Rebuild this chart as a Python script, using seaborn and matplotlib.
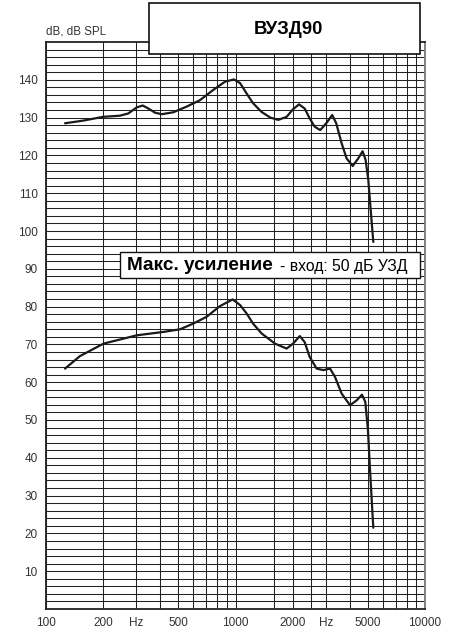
import matplotlib
matplotlib.use('Agg')
import matplotlib.pyplot as plt
from matplotlib.patches import Rectangle
import numpy as np
import pandas as pd
import seaborn as sns

# upper curve: max output (dB SPL)
freq_max = [126, 157, 200, 245, 272, 301, 324, 347, 376, 408, 469, 552, 649, 762, 880,
            981, 1058, 1144, 1238, 1373, 1527, 1682, 1861, 2011, 2163, 2318, 2462, 2617,
            2800, 3013, 3238, 3400, 3631, 3858, 4155, 4442, 4684, 4860, 5021, 5170, 5336]
db_max = [128.5, 129.2, 130.2, 130.5, 131.1, 132.7, 133.2, 132.4, 131.3, 130.9, 131.4,
          132.9, 134.6, 137.3, 139.5, 140.1, 139.1, 136.4, 133.8, 131.5, 130.0, 129.4,
          130.2, 132.2, 133.5, 132.4, 129.8, 127.6, 126.7, 128.5, 130.7, 128.5, 123.2,
          119.2, 117.2, 119.2, 121.1, 118.8, 113.5, 105.5, 97.1]

# lower curve: max gain, input 50 dB SPL
freq_gain = [126, 151, 201, 301, 416, 510, 598, 704, 826, 966, 1058, 1144, 1238, 1373,
             1616, 1861, 2011, 2184, 2318, 2462, 2680, 2909, 3155, 3350, 3631, 4021,
             4358, 4650, 4841, 5000, 5140, 5336]
db_gain = [63.6, 66.9, 70.2, 72.4, 73.3, 74.0, 75.5, 77.3, 80.1, 81.9, 80.4, 78.2, 75.5,
           72.9, 70.2, 68.9, 70.2, 72.2, 70.6, 66.7, 63.6, 63.2, 63.6, 61.4, 57.0, 53.9,
           55.2, 56.7, 54.8, 47.3, 35.8, 21.5]

x_ticks = [100, 200, 300, 500, 1000, 2000, 3000, 5000, 10000]
x_labels = ['100', '200', 'Hz', '500', '1000', '2000', 'Hz', '5000', '10000']
x_grid = [200, 300, 400, 500, 600, 700, 800, 900, 1000, 1600, 2000, 2500, 3000,
          4000, 5000, 6000, 7000, 8000, 9000]
y_ticks = list(range(10, 150, 10))

sns.set_style('white')
plt.rcParams['font.family'] = ['Liberation Sans', 'DejaVu Sans']

W, H = 455, 631
fig = plt.figure(figsize=(W / 100, H / 100), dpi=100)
ax = fig.add_axes([46 / W, 1 - 609 / H, (425 - 46) / W, (609 - 42) / H])

df_max = pd.DataFrame({'f': freq_max, 'db': db_max})
df_gain = pd.DataFrame({'f': freq_gain, 'db': db_gain})
for d in (df_max, df_gain):
    sns.lineplot(data=d, x='f', y='db', ax=ax, color='#1a1a1a', linewidth=1.6,
                 sort=False, estimator=None, zorder=5,
                 solid_joinstyle='round', solid_capstyle='round')

ax.set_xscale('log')
ax.set_xlim(100, 10000)
ax.set_ylim(0, 150)

ax.set_xticks(x_ticks)
ax.set_xticklabels(x_labels)
ax.set_xticks(x_grid, minor=True)
ax.set_yticks(y_ticks)
ax.set_yticks(np.arange(2, 150, 2), minor=True)
ax.tick_params(which='both', length=0, labelsize=8.5, labelcolor='#333333')
ax.tick_params(axis='x', pad=6)
ax.tick_params(axis='y', pad=6)
ax.grid(which='minor', color='#222222', linewidth=0.75)
ax.grid(which='major', color='#222222', linewidth=0.75)
ax.set_xlabel('')
ax.set_ylabel('')

for side in ['left', 'bottom', 'top']:
    ax.spines[side].set_color('#222222')
    ax.spines[side].set_linewidth(1.3)
ax.spines['right'].set_color('#777777')
ax.spines['right'].set_linewidth(1.3)


def fx(x):
    return x / W


def fy(y):
    return 1 - y / H


fig.text(fx(46), fy(31), 'dB, dB SPL', fontsize=8.3, color='#333333',
         ha='left', va='center')

# title box
fig.patches.append(Rectangle((fx(149), fy(54)), fx(420) - fx(149), fy(3) - fy(54),
                             transform=fig.transFigure, facecolor='white',
                             edgecolor='#111111', linewidth=1.2, zorder=10))
fig.text(fx(288), fy(30), 'ВУЗД90', fontsize=13.3, fontweight='bold', color='black',
         ha='center', va='center', zorder=11)

# legend box
fig.patches.append(Rectangle((fx(120), fy(278)), fx(420) - fx(120), fy(252) - fy(278),
                             transform=fig.transFigure, facecolor='white',
                             edgecolor='#111111', linewidth=1.0, zorder=10))
fig.text(fx(127), fy(266), 'Макс. усиление', fontsize=13.7, fontweight='bold',
         color='black', ha='left', va='center', zorder=11)
fig.text(fx(280), fy(266), '- вход: 50 дБ УЗД', fontsize=11.3, color='black',
         ha='left', va='center', zorder=11)

fig.savefig('out.png', dpi=100)
